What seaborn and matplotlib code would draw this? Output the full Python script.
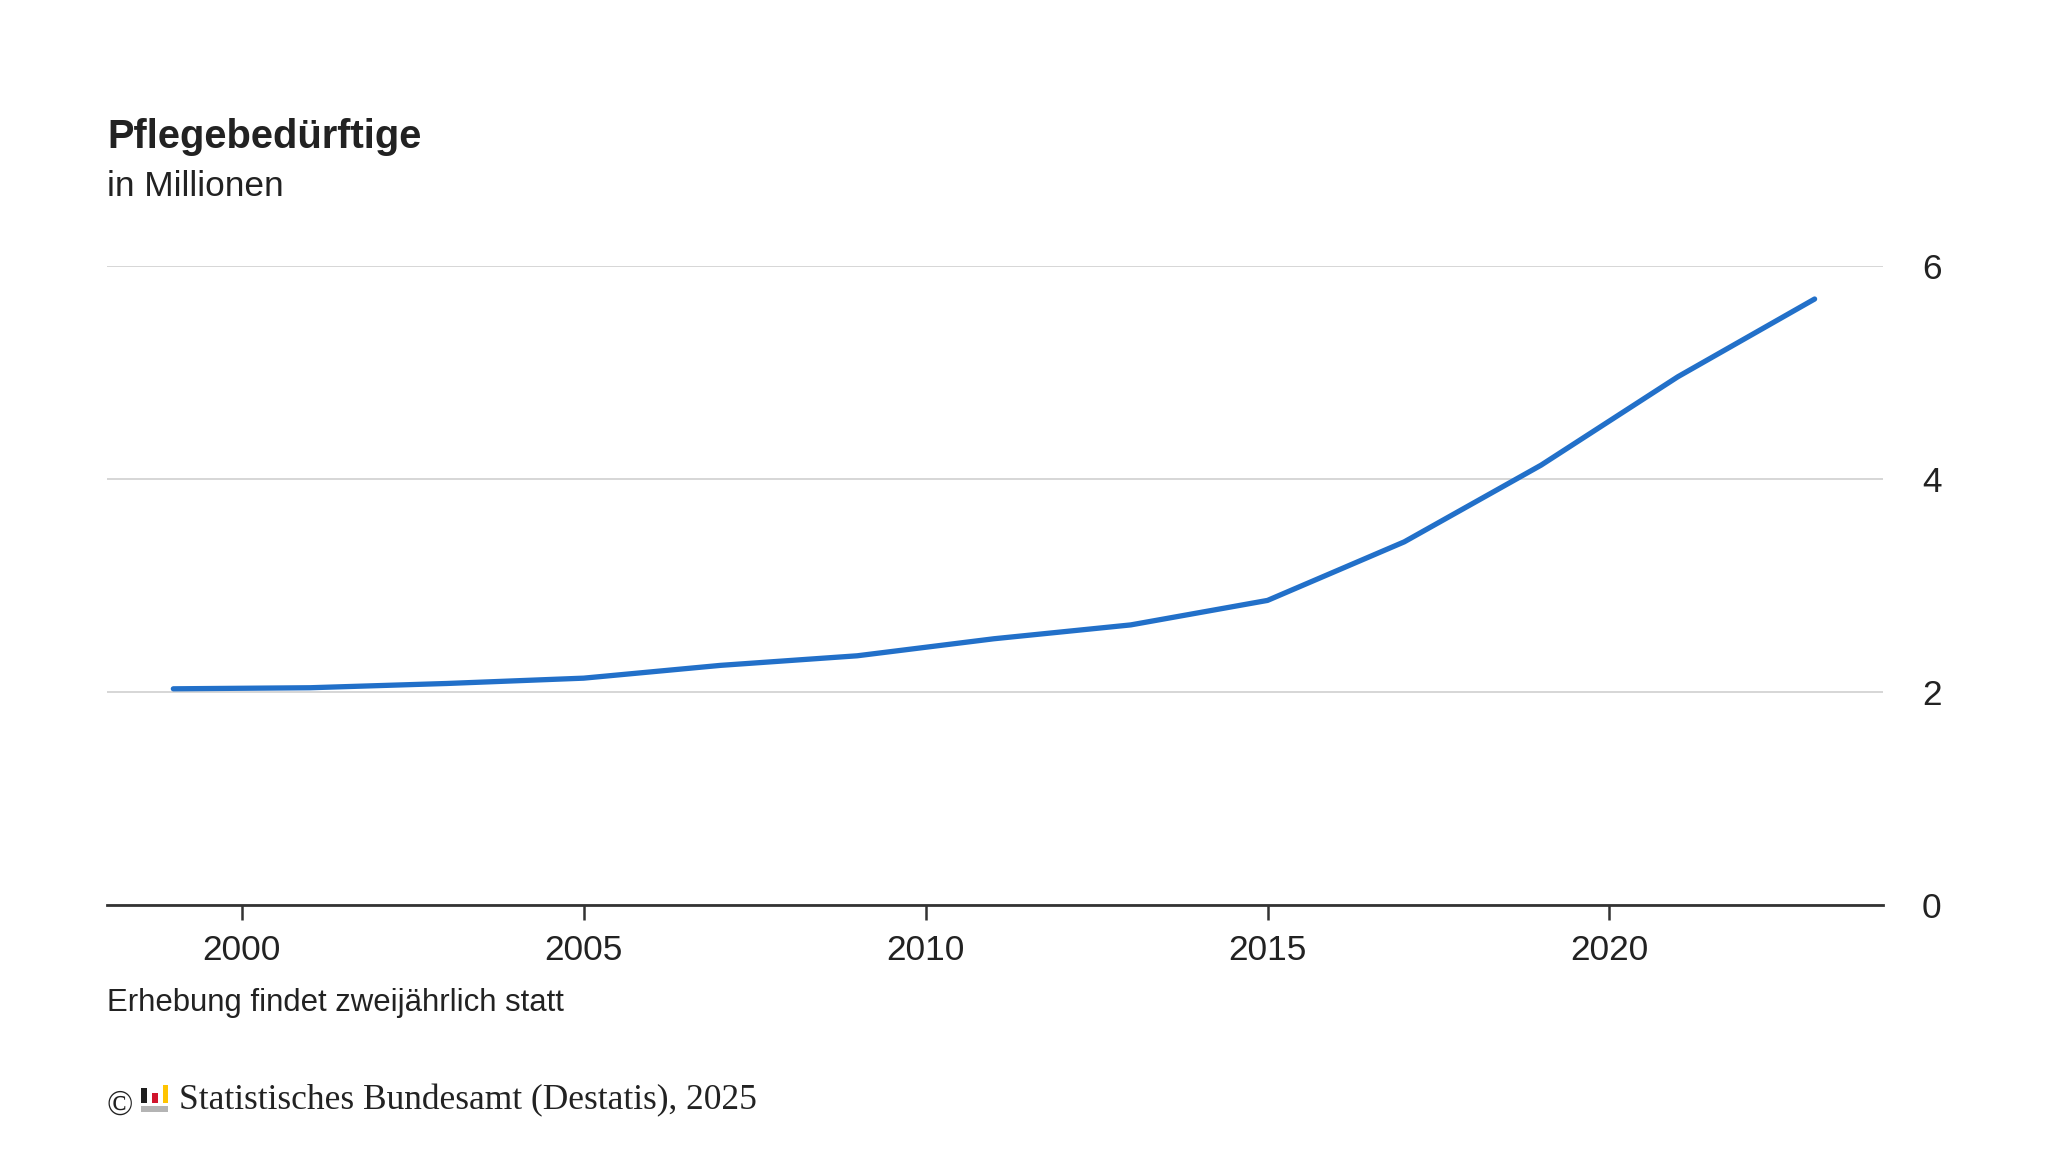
import matplotlib
matplotlib.use("Agg")
import matplotlib.pyplot as plt
from matplotlib.patches import Rectangle
import pandas as pd
import seaborn as sns

# values
years = [1999, 2001, 2003, 2005, 2007, 2009, 2011, 2013, 2015, 2017, 2019, 2021, 2023]
pflege = [2.03, 2.04, 2.08, 2.13, 2.25, 2.34, 2.50, 2.63, 2.86, 3.41, 4.13, 4.96, 5.69]
x_ticks = [2000, 2005, 2010, 2015, 2020]
y_ticks = [0, 2, 4, 6]

df = pd.DataFrame({"Jahr": years, "Pflegebeduerftige": pflege})

W, H = 2048, 1152
TEXT = "#222222"

sns.set_theme(style="white")
plt.rcParams["font.family"] = ["Liberation Sans", "DejaVu Sans"]

fig = plt.figure(figsize=(W / 100, H / 100), dpi=100, facecolor="white")
# plot area in pixels: left 107, right 1883, top 266, bottom 905
ax = fig.add_axes([107 / W, 1 - 905 / H, (1883 - 107) / W, (905 - 266) / H])

sns.lineplot(data=df, x="Jahr", y="Pflegebeduerftige", ax=ax, color="#2270C9",
             linewidth=3.8, solid_capstyle="round", solid_joinstyle="round",
             zorder=3, clip_on=False)

ax.set_xlim(1998.03, 2024.0)
ax.set_ylim(0, 6)
ax.set_xlabel("")
ax.set_ylabel("")

ax.set_xticks(x_ticks)
ax.set_yticks(y_ticks)
ax.yaxis.tick_right()

ax.grid(axis="y", color="#D6D6D6", linewidth=1.4)
ax.grid(axis="x", visible=False)
ax.set_axisbelow(True)

for side in ["top", "left", "right"]:
    ax.spines[side].set_visible(False)
ax.spines["bottom"].set_color("#333333")
ax.spines["bottom"].set_linewidth(2)

ax.tick_params(axis="x", length=11, width=1.8, color="#333333", labelsize=25.4,
               labelcolor=TEXT, pad=10, bottom=True)
ax.tick_params(axis="y", length=0, labelsize=25.4, labelcolor=TEXT, pad=28, right=False)

# headline and notes
fig.text(107 / W, 1 - 137 / H, "Pflegebedürftige", fontsize=28.7, fontweight="bold",
         color=TEXT, ha="left", va="center")
fig.text(107 / W, 1 - 186 / H, "in Millionen", fontsize=25.4, color=TEXT, ha="left", va="center")
fig.text(107 / W, 1 - 1003 / H, "Erhebung findet zweijährlich statt", fontsize=22.4,
         color=TEXT, ha="left", va="center")
fig.text(107 / W, 1 - 1106 / H, "©", fontsize=25, color=TEXT, ha="left", va="center",
         family=["Liberation Serif"])
fig.text(179 / W, 1 - 1101 / H, "Statistisches Bundesamt (Destatis), 2025", fontsize=25.45,
         color=TEXT, ha="left", va="center", family=["Liberation Serif"])

# small Destatis logo next to the copyright sign
for x0, y0, x1, y1, col in [
    (141, 1088, 147, 1103, "#1E1E1E"),
    (152, 1093, 158, 1103, "#D0142C"),
    (163, 1085, 168, 1103, "#FFC400"),
    (141, 1106, 168, 1112, "#B4B4B4"),
]:
    fig.patches.append(Rectangle((x0 / W, 1 - y1 / H), (x1 - x0) / W, (y1 - y0) / H,
                                 transform=fig.transFigure, facecolor=col, edgecolor="none"))

fig.savefig("out.png", dpi=100)
